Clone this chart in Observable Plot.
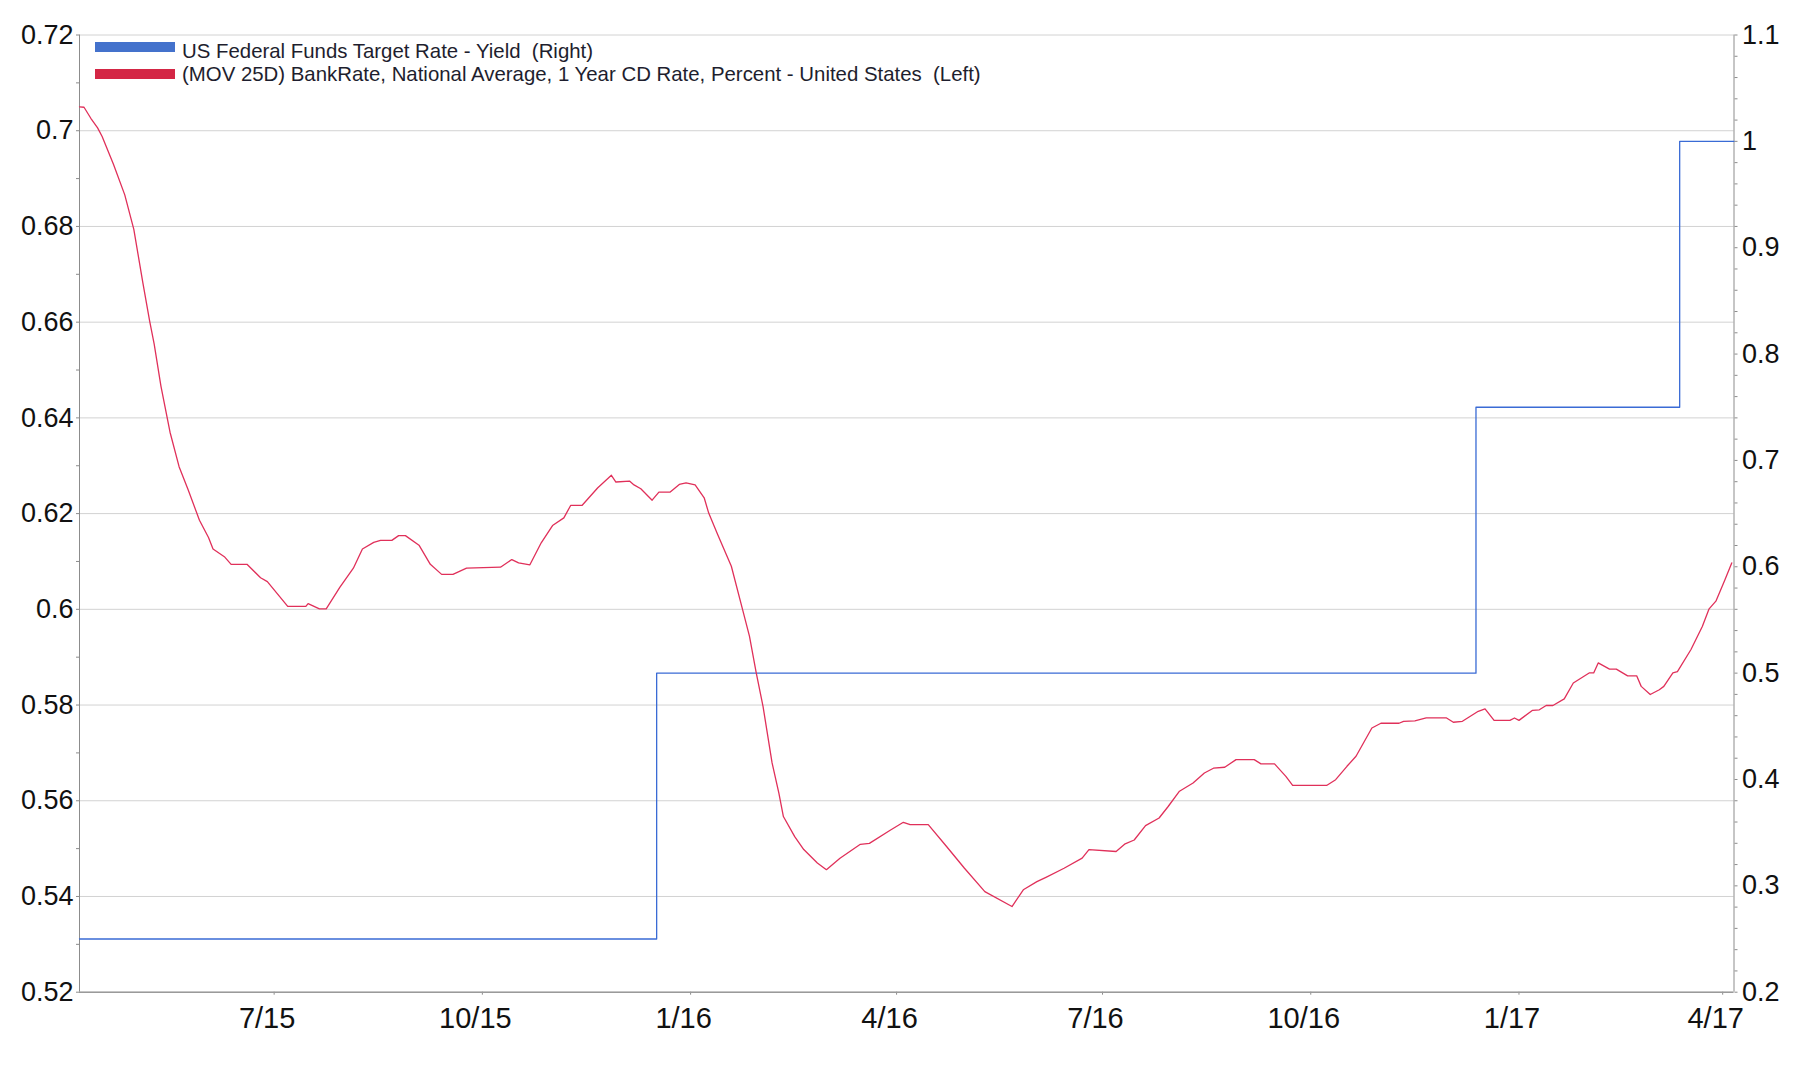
<!DOCTYPE html>
<html><head><meta charset="utf-8">
<script src="https://cdn.jsdelivr.net/npm/d3@7"></script>
<script src="https://cdn.jsdelivr.net/npm/@observablehq/plot@0.6"></script>
<style>
html,body{margin:0;padding:0;background:#fff;}
#wrap{position:relative;width:1812px;height:1065px;overflow:hidden;}
#legend{position:absolute;left:0;top:0;font-family:"Liberation Sans",Arial,sans-serif;font-size:20.4px;color:#1e1e2e;}
.sw{position:absolute;left:95px;width:80px;height:10px;}
.lt{position:absolute;left:182px;white-space:pre;line-height:20px;}
</style></head><body>
<div id="wrap"></div>
<script>
// ---- data ----
const seriesNames = [
  "US Federal Funds Target Rate - Yield  (Right)",
  "(MOV 25D) BankRate, National Average, 1 Year CD Rate, Percent - United States  (Left)"
];
const fedDates = ["2015-04-06","2015-12-17","2016-12-13","2017-03-13","2017-04-06"];
const fedValues = [0.25, 0.5, 0.75, 1.0, 1.0];

const cdDates = ["2015-04-06","2015-04-08","2015-04-11","2015-04-14","2015-04-16","2015-04-21","2015-04-26","2015-04-30","2015-05-04","2015-05-07","2015-05-09","2015-05-12","2015-05-16","2015-05-20","2015-05-24","2015-05-29","2015-06-02","2015-06-04","2015-06-09","2015-06-12","2015-06-19","2015-06-25","2015-06-28","2015-07-07","2015-07-15","2015-07-16","2015-07-21","2015-07-24","2015-07-30","2015-08-05","2015-08-09","2015-08-14","2015-08-17","2015-08-22","2015-08-25","2015-08-28","2015-09-03","2015-09-08","2015-09-13","2015-09-18","2015-09-24","2015-10-09","2015-10-14","2015-10-17","2015-10-22","2015-10-27","2015-11-01","2015-11-06","2015-11-09","2015-11-14","2015-11-21","2015-11-27","2015-11-29","2015-12-05","2015-12-07","2015-12-10","2015-12-15","2015-12-18","2015-12-23","2015-12-27","2015-12-30","2016-01-03","2016-01-07","2016-01-09","2016-01-13","2016-01-19","2016-01-24","2016-01-27","2016-01-30","2016-02-02","2016-02-06","2016-02-09","2016-02-11","2016-02-16","2016-02-20","2016-02-26","2016-03-01","2016-03-07","2016-03-16","2016-03-20","2016-03-29","2016-04-04","2016-04-07","2016-04-15","2016-04-23","2016-05-01","2016-05-10","2016-05-22","2016-05-27","2016-06-02","2016-06-06","2016-06-14","2016-06-22","2016-06-25","2016-07-07","2016-07-11","2016-07-15","2016-07-20","2016-07-26","2016-07-30","2016-08-04","2016-08-10","2016-08-15","2016-08-19","2016-08-24","2016-08-29","2016-09-06","2016-09-09","2016-09-15","2016-09-20","2016-09-23","2016-10-08","2016-10-12","2016-10-17","2016-10-21","2016-10-28","2016-11-01","2016-11-09","2016-11-11","2016-11-16","2016-11-21","2016-11-30","2016-12-03","2016-12-07","2016-12-14","2016-12-17","2016-12-21","2016-12-28","2016-12-30","2017-01-01","2017-01-07","2017-01-10","2017-01-13","2017-01-16","2017-01-21","2017-01-25","2017-02-01","2017-02-03","2017-02-05","2017-02-10","2017-02-13","2017-02-18","2017-02-22","2017-02-24","2017-02-28","2017-03-04","2017-03-06","2017-03-10","2017-03-12","2017-03-18","2017-03-23","2017-03-26","2017-03-29","2017-04-02","2017-04-05"];
const cdValues = [0.7050,0.7049,0.7026,0.7006,0.6988,0.6930,0.6866,0.6794,0.6682,0.6602,0.6554,0.6466,0.6370,0.6298,0.6250,0.6186,0.6150,0.6126,0.6110,0.6094,0.6094,0.6066,0.6058,0.6006,0.6006,0.6012,0.6001,0.6001,0.6046,0.6086,0.6126,0.6140,0.6144,0.6144,0.6154,0.6154,0.6134,0.6094,0.6073,0.6073,0.6086,0.6088,0.6104,0.6097,0.6093,0.6139,0.6175,0.6191,0.6217,0.6217,0.6254,0.6280,0.6266,0.6268,0.6260,0.6252,0.6228,0.6245,0.6245,0.6261,0.6264,0.6260,0.6233,0.6201,0.6156,0.6090,0.5999,0.5944,0.5867,0.5797,0.5679,0.5616,0.5567,0.5525,0.5498,0.5470,0.5456,0.5480,0.5509,0.5511,0.5538,0.5555,0.5550,0.5550,0.5505,0.5459,0.5410,0.5379,0.5414,0.5431,0.5440,0.5459,0.5480,0.5498,0.5494,0.5510,0.5518,0.5548,0.5564,0.5588,0.5620,0.5637,0.5658,0.5668,0.5670,0.5686,0.5686,0.5677,0.5677,0.5651,0.5632,0.5632,0.5644,0.5672,0.5693,0.5752,0.5762,0.5762,0.5766,0.5767,0.5773,0.5773,0.5764,0.5766,0.5787,0.5792,0.5768,0.5768,0.5773,0.5768,0.5789,0.5790,0.5799,0.5799,0.5813,0.5846,0.5867,0.5867,0.5888,0.5875,0.5875,0.5861,0.5861,0.5839,0.5822,0.5832,0.5839,0.5867,0.5870,0.5916,0.5964,0.6001,0.6017,0.6062,0.6097];

const xDomainDates = ["2015-04-06","2017-04-06"];
const xTickDates = ["2015-07-01","2015-10-01","2016-01-01","2016-04-01","2016-07-01","2016-10-01","2017-01-01","2017-04-01"];
const xTickLabels = ["7/15","10/15","1/16","4/16","7/16","10/16","1/17","4/17"];
const leftDomain = [0.52, 0.72];
const rightDomain = [0.2, 1.1];

// ---- build ----
const parse = d3.utcParse("%Y-%m-%d");
const toLeft = v => leftDomain[0] + (v - rightDomain[0]) * (leftDomain[1]-leftDomain[0])/(rightDomain[1]-rightDomain[0]);
const fromLeft = u => rightDomain[0] + (u - leftDomain[0]) * (rightDomain[1]-rightDomain[0])/(leftDomain[1]-leftDomain[0]);

const cd = cdDates.map((d,i) => ({date: parse(d), value: cdValues[i]}));
const fed = fedDates.map((d,i) => ({date: parse(d), value: toLeft(fedValues[i])}));
const xTicks = xTickDates.map(parse);
const labelOf = new Map(xTickDates.map((d,i) => [+parse(d), xTickLabels[i]]));

const leftTicks = d3.range(52, 73).map(k => k/100);
const leftMajor = leftTicks.filter(v => Math.round(v*100) % 2 === 0);
const rightAll = d3.range(10, 56).map(k => toLeft(k/50));
const rightMajor = d3.range(2, 12).map(k => toLeft(k/10));

const axisGray = "#8c8c8c";
const plot = Plot.plot({
  width: 1812, height: 1065,
  marginLeft: 79, marginRight: 78.5, marginTop: 34.5, marginBottom: 73.3,
  style: {fontFamily: '"Liberation Sans", Arial, sans-serif', fontSize: "27px", color: "#111", background: "#fff", overflow: "visible"},
  x: {type: "utc", domain: xDomainDates.map(parse)},
  y: {domain: leftDomain},
  marks: [
    Plot.gridY(leftMajor, {stroke: "#d2d2d2", strokeOpacity: 1}),
    Plot.ruleX([parse(xDomainDates[0])], {stroke: axisGray}),
    Plot.ruleX([parse(xDomainDates[1])], {stroke: axisGray}),
    Plot.axisY({anchor: "left", ticks: leftTicks, tickSize: 3, fill: "none", stroke: axisGray, label: null}),
    Plot.axisY({anchor: "left", ticks: leftMajor, tickSize: 0, tickPadding: 6, label: null, ariaLabel: "y-left-labels",
      tickFormat: d => String(+d.toFixed(2))}),
    Plot.axisY({anchor: "right", ticks: rightAll, tickSize: 3, fill: "none", stroke: axisGray, label: null}),
    Plot.axisY({anchor: "right", ticks: rightMajor, tickSize: 0, tickPadding: 8, label: null, ariaLabel: "y-right-labels",
      tickFormat: u => String(+fromLeft(u).toFixed(1))}),
    Plot.axisX({ticks: xTicks, tickSize: 3, fill: "none", stroke: axisGray, label: null}),
    Plot.axisX({ticks: xTicks, tickSize: 0, tickPadding: 15, dx: -7, fontSize: 29, label: null,
      tickFormat: d => labelOf.get(+d)}),
    Plot.ruleY([leftDomain[0]], {stroke: "#9a9a9a", strokeWidth: 1.6}),
    Plot.line(fed, {x: "date", y: "value", curve: "step-after", stroke: "#3a6bd5", strokeWidth: 1.3}),
    Plot.line(cd, {x: "date", y: "value", stroke: "#e0305a", strokeWidth: 1.3})
  ]
});
// wider letter spacing on the value labels, as in the reference
d3.select(plot).selectAll('g[aria-label="y-left-labels"] text, g[aria-label="y-right-labels"] text')
  .style("letter-spacing", "1.5px");
const wrap = document.getElementById("wrap");
wrap.appendChild(plot);

// legend (overlaid inside the plot frame, as in the reference)
const legend = document.createElement("div");
legend.id = "legend";
const swColors = ["#4472cc", "#d42645"];
const swTops = [42, 69];
const txtTops = [41, 64];
seriesNames.forEach((name, i) => {
  const sw = document.createElement("div");
  sw.className = "sw"; sw.style.top = swTops[i] + "px"; sw.style.background = swColors[i];
  const t = document.createElement("div");
  t.className = "lt"; t.style.top = txtTops[i] + "px"; t.textContent = name;
  legend.appendChild(sw); legend.appendChild(t);
});
wrap.appendChild(legend);
</script>
</body></html>
